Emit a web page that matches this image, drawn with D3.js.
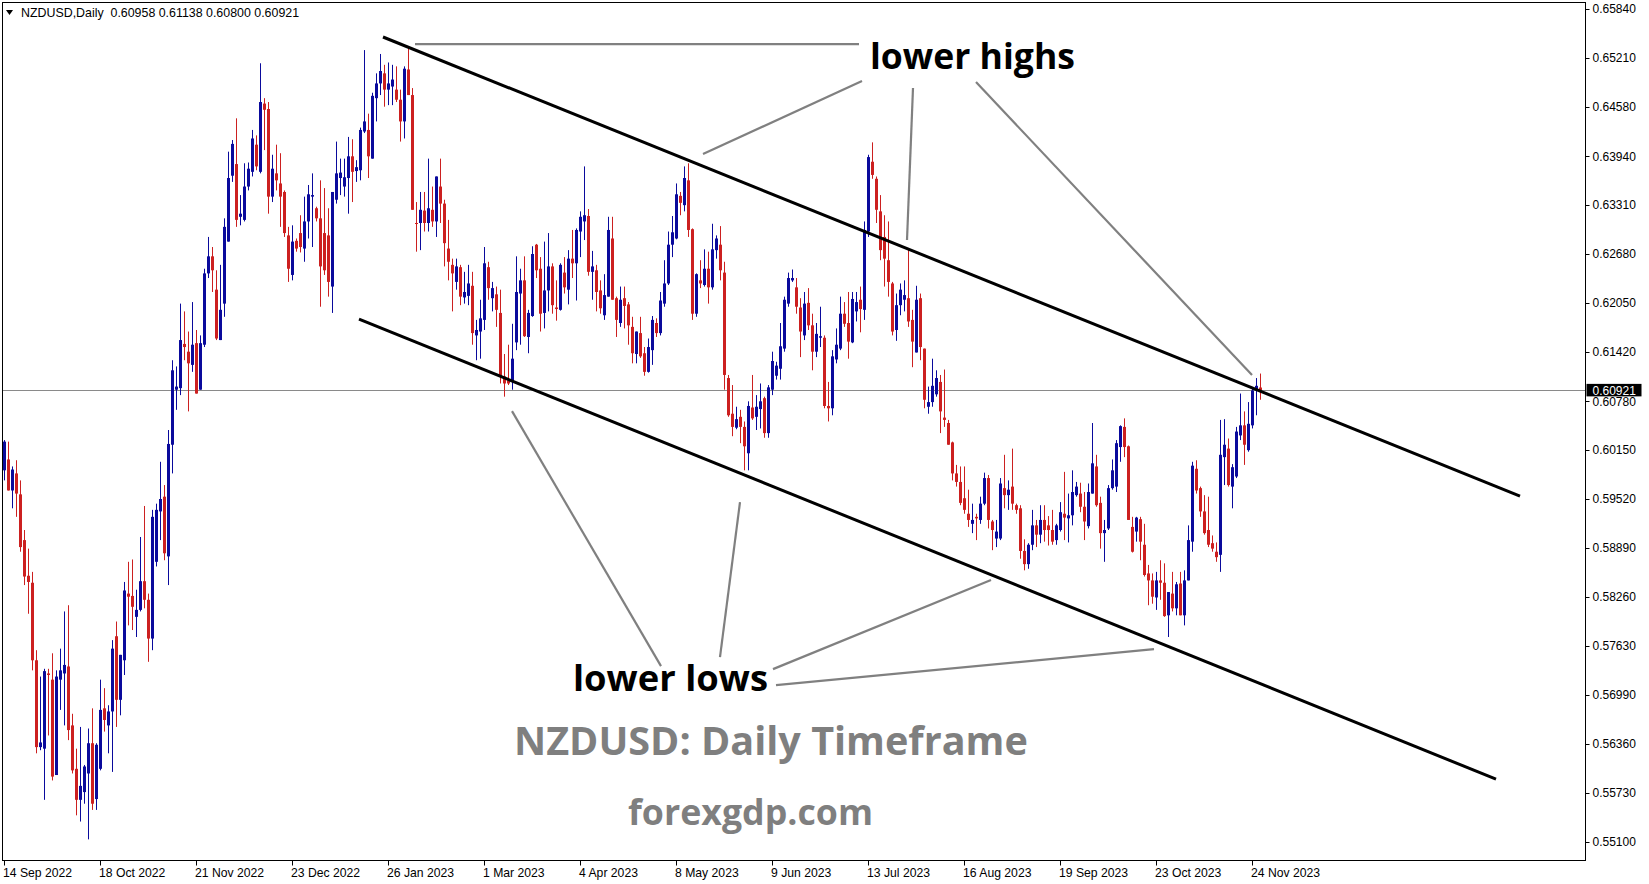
<!DOCTYPE html>
<html><head><meta charset="utf-8">
<script src="https://cdn.jsdelivr.net/npm/d3@7/dist/d3.min.js"></script>
<style>html,body{margin:0;padding:0;background:#fff;overflow:hidden}</style>
</head><body><svg id="c" width="1649" height="884"></svg>
<script>
// ---------------- DATA ----------------
const symbolName = "NZDUSD,Daily";
const openP = [
0.5989,0.6003,0.5963,0.5985,0.5958,0.5899,0.5853,0.5844,0.5744,0.5632,
0.5630,0.5727,0.5719,0.5596,0.5719,0.5727,0.5736,0.5660,0.5604,0.5564,
0.5574,0.5598,0.5637,0.5565,0.5604,0.5682,0.5660,0.5678,0.5775,0.5693,
0.5744,0.5830,0.5827,0.5800,0.5809,0.5846,0.5822,0.5772,0.5871,0.5936,
0.5955,0.5878,0.6022,0.6093,0.6095,0.6152,0.6142,0.6125,0.6153,0.6093,
0.6151,0.6243,0.6265,0.6222,0.6157,0.6204,0.6284,0.6369,0.6384,0.6316,
0.6312,0.6355,0.6374,0.6409,0.6374,0.6462,0.6455,0.6342,0.6372,0.6359,
0.6348,0.6292,0.6241,0.6285,0.6295,0.6275,0.6310,0.6342,0.6327,0.6314,
0.6295,0.6292,0.6226,0.6338,0.6366,0.6355,0.6366,0.6394,0.6375,0.6376,
0.6426,0.6428,0.6391,0.6469,0.6488,0.6501,0.6480,0.6484,0.6480,0.6467,
0.6439,0.6506,0.6473,0.6308,0.6308,0.6324,0.6308,0.6325,0.6310,0.6355,
0.6333,0.6275,0.6254,0.6232,0.6251,0.6212,0.6214,0.6227,0.6163,0.6168,
0.6183,0.6251,0.6211,0.6216,0.6192,0.6110,0.6105,0.6103,0.6154,0.6217,
0.6234,0.6161,0.6188,0.6280,0.6249,0.6192,0.6221,0.6252,0.6199,0.6196,
0.6244,0.6222,0.6262,0.6256,0.6297,0.6310,0.6317,0.6245,0.6247,0.6221,
0.6189,0.6213,0.6288,0.6211,0.6179,0.6211,0.6203,0.6174,0.6139,0.6166,
0.6140,0.6116,0.6144,0.6179,0.6166,0.6204,0.6230,0.6280,0.6288,0.6343,
0.6331,0.6363,0.6300,0.6191,0.6234,0.6228,0.6249,0.6225,0.6273,0.6280,
0.6244,0.6108,0.6062,0.6044,0.6058,0.6045,0.6011,0.6070,0.6058,0.6068,
0.6082,0.6037,0.6093,0.6111,0.6120,0.6146,0.6204,0.6234,0.6225,0.6199,
0.6163,0.6205,0.6176,0.6142,0.6160,0.6160,0.6072,0.6069,0.6132,0.6146,
0.6191,0.6179,0.6154,0.6194,0.6209,0.6196,0.6297,0.6387,0.6365,0.6323,
0.6290,0.6260,0.6230,0.6170,0.6202,0.6209,0.6211,0.6183,0.6141,0.6211,
0.6146,0.6071,0.6077,0.6087,0.6103,0.6057,0.6050,0.6025,0.5985,0.5974,
0.5953,0.5933,0.5920,0.5929,0.5925,0.5946,0.5979,0.5923,0.5901,0.5901,
0.5966,0.5957,0.5968,0.5944,0.5940,0.5885,0.5868,0.5893,0.5918,0.5906,
0.5925,0.5918,0.5912,0.5899,0.5912,0.5933,0.5927,0.5931,0.5957,0.5959,
0.5942,0.5917,0.5959,0.5994,0.5947,0.5908,0.5914,0.5966,0.5968,0.6019,
0.6045,0.6020,0.5916,0.5910,0.5926,0.5893,0.5856,0.5847,0.5825,0.5847,
0.5844,0.5802,0.5830,0.5811,0.5843,0.5802,0.5847,0.5897,0.5991,0.5966,
0.5936,0.5912,0.5895,0.5884,0.5880,0.6006,0.6017,0.5968,0.5981,0.6034,
0.6047,0.6015,0.6047,0.6092,0.60958];
const highP = [
0.6028,0.6026,0.5994,0.6002,0.5976,0.5912,0.5888,0.5858,0.5757,0.5723,
0.5733,0.5733,0.5753,0.5731,0.5759,0.5807,0.5815,0.5675,0.5630,0.5658,
0.5609,0.5656,0.5682,0.5637,0.5719,0.5708,0.5686,0.5770,0.5794,0.5751,
0.5845,0.5871,0.5874,0.5835,0.5903,0.5943,0.5830,0.5938,0.5946,0.6000,
0.5970,0.6041,0.6131,0.6123,0.6204,0.6194,0.6168,0.6206,0.6170,0.6163,
0.6249,0.6290,0.6277,0.6247,0.6254,0.6314,0.6400,0.6415,0.6443,0.6344,
0.6385,0.6386,0.6428,0.6421,0.6514,0.6469,0.6464,0.6396,0.6409,0.6398,
0.6350,0.6303,0.6305,0.6288,0.6318,0.6342,0.6357,0.6372,0.6329,0.6363,
0.6353,0.6327,0.6348,0.6413,0.6391,0.6391,0.6419,0.6416,0.6389,0.6431,
0.6531,0.6449,0.6476,0.6501,0.6526,0.6512,0.6515,0.6512,0.6510,0.6480,
0.6510,0.6535,0.6482,0.6335,0.6348,0.6348,0.6391,0.6355,0.6368,0.6391,
0.6338,0.6312,0.6262,0.6262,0.6254,0.6245,0.6254,0.6245,0.6183,0.6209,
0.6277,0.6258,0.6232,0.6226,0.6222,0.6139,0.6151,0.6178,0.6265,0.6249,
0.6265,0.6196,0.6278,0.6281,0.6264,0.6284,0.6295,0.6256,0.6234,0.6256,
0.6264,0.6273,0.6299,0.6301,0.6323,0.6381,0.6326,0.6272,0.6254,0.6234,
0.6242,0.6316,0.6316,0.6213,0.6226,0.6226,0.6206,0.6187,0.6168,0.6187,
0.6148,0.6159,0.6188,0.6185,0.6219,0.6260,0.6297,0.6317,0.6359,0.6348,
0.6381,0.6385,0.6301,0.6243,0.6260,0.6274,0.6271,0.6307,0.6292,0.6304,
0.6258,0.6112,0.6099,0.6071,0.6067,0.6052,0.6078,0.6112,0.6086,0.6101,
0.6084,0.6099,0.6142,0.6129,0.6179,0.6213,0.6244,0.6248,0.6237,0.6211,
0.6219,0.6224,0.6191,0.6179,0.6200,0.6163,0.6103,0.6144,0.6172,0.6213,
0.6206,0.6219,0.6219,0.6219,0.6226,0.6310,0.6396,0.6412,0.6368,0.6344,
0.6318,0.6310,0.6232,0.6217,0.6230,0.6234,0.6275,0.6196,0.6227,0.6217,
0.6146,0.6097,0.6133,0.6118,0.6112,0.6119,0.6054,0.6026,0.5996,0.5994,
0.5994,0.5964,0.5946,0.5933,0.5955,0.5986,0.5983,0.5925,0.5925,0.5979,
0.6009,0.5976,0.6017,0.5946,0.5944,0.5900,0.5895,0.5938,0.5925,0.5944,
0.5944,0.5930,0.5938,0.5920,0.5948,0.5987,0.5959,0.5989,0.5974,0.5973,
0.5961,0.5972,0.6050,0.6009,0.5955,0.5925,0.5970,0.6003,0.6028,0.6047,
0.6056,0.6021,0.5929,0.5929,0.5929,0.5920,0.5867,0.5856,0.5858,0.5873,
0.5869,0.5832,0.5858,0.5845,0.5858,0.5860,0.5918,0.6000,0.6002,0.5968,
0.5957,0.5955,0.5905,0.5896,0.6054,0.6055,0.6030,0.5997,0.6045,0.6088,
0.6065,0.6077,0.6095,0.6108,0.61138];
const lowP = [
0.5976,0.5963,0.5940,0.5929,0.5884,0.5841,0.5804,0.5731,0.5624,0.5628,
0.5564,0.5647,0.5589,0.5596,0.5680,0.5660,0.5641,0.5598,0.5544,0.5536,
0.5559,0.5513,0.5551,0.5551,0.5602,0.5652,0.5624,0.5600,0.5658,0.5673,
0.5725,0.5789,0.5783,0.5774,0.5807,0.5811,0.5742,0.5757,0.5865,0.5899,
0.5873,0.5841,0.5985,0.6067,0.6086,0.6131,0.6065,0.6116,0.6088,0.6093,
0.6148,0.6237,0.6219,0.6157,0.6157,0.6187,0.6284,0.6361,0.6303,0.6305,
0.6310,0.6350,0.6368,0.6376,0.6372,0.6402,0.6320,0.6335,0.6350,0.6303,
0.6290,0.6232,0.6234,0.6271,0.6270,0.6258,0.6288,0.6277,0.6310,0.6200,
0.6241,0.6213,0.6192,0.6333,0.6344,0.6342,0.6320,0.6335,0.6361,0.6363,
0.6424,0.6366,0.6391,0.6439,0.6473,0.6458,0.6460,0.6460,0.6464,0.6413,
0.6417,0.6473,0.6325,0.6271,0.6273,0.6297,0.6297,0.6303,0.6290,0.6308,
0.6252,0.6234,0.6194,0.6222,0.6202,0.6204,0.6202,0.6151,0.6131,0.6133,
0.6170,0.6209,0.6194,0.6174,0.6101,0.6084,0.6099,0.6093,0.6144,0.6151,
0.6161,0.6140,0.6187,0.6237,0.6168,0.6172,0.6194,0.6191,0.6182,0.6195,
0.6217,0.6203,0.6237,0.6208,0.6264,0.6286,0.6240,0.6209,0.6194,0.6191,
0.6183,0.6213,0.6209,0.6161,0.6174,0.6172,0.6151,0.6127,0.6127,0.6134,
0.6111,0.6115,0.6125,0.6161,0.6163,0.6200,0.6228,0.6264,0.6287,0.6318,
0.6323,0.6290,0.6183,0.6187,0.6224,0.6226,0.6204,0.6222,0.6262,0.6234,
0.6093,0.6058,0.6033,0.6042,0.6024,0.5989,0.5989,0.6054,0.6041,0.6043,
0.6031,0.6031,0.6086,0.6106,0.6106,0.6142,0.6200,0.6232,0.6191,0.6135,
0.6157,0.6170,0.6118,0.6135,0.6148,0.6069,0.6052,0.6060,0.6127,0.6144,
0.6174,0.6133,0.6153,0.6181,0.6167,0.6183,0.6290,0.6365,0.6308,0.6260,
0.6226,0.6213,0.6163,0.6156,0.6189,0.6194,0.6174,0.6122,0.6141,0.6131,
0.6069,0.6062,0.6071,0.6084,0.6037,0.6045,0.6022,0.5976,0.5968,0.5944,
0.5933,0.5916,0.5908,0.5899,0.5920,0.5944,0.5914,0.5886,0.5890,0.5899,
0.5940,0.5938,0.5938,0.5933,0.5875,0.5860,0.5862,0.5886,0.5890,0.5895,
0.5897,0.5892,0.5893,0.5893,0.5910,0.5899,0.5896,0.5918,0.5955,0.5935,
0.5899,0.5914,0.5959,0.5942,0.5888,0.5871,0.5912,0.5964,0.5961,0.6000,
0.6006,0.5925,0.5883,0.5897,0.5873,0.5852,0.5815,0.5817,0.5809,0.5822,
0.5800,0.5774,0.5807,0.5802,0.5802,0.5789,0.5847,0.5884,0.5959,0.5929,
0.5906,0.5890,0.5884,0.5871,0.5858,0.5970,0.5968,0.5940,0.5979,0.6028,
0.5996,0.6013,0.6043,0.6060,0.60800];
const closeP = [
0.6026,0.5963,0.5990,0.5959,0.5890,0.5852,0.5845,0.5744,0.5632,0.5638,
0.5730,0.5725,0.5594,0.5723,0.5731,0.5738,0.5654,0.5602,0.5564,0.5582,
0.5607,0.5637,0.5559,0.5635,0.5680,0.5667,0.5678,0.5759,0.5693,0.5751,
0.5834,0.5826,0.5813,0.5809,0.5846,0.5822,0.5772,0.5929,0.5938,0.5952,
0.5882,0.6023,0.6118,0.6097,0.6157,0.6148,0.6127,0.6151,0.6088,0.6153,
0.6243,0.6265,0.6247,0.6159,0.6196,0.6303,0.6366,0.6410,0.6312,0.6320,
0.6355,0.6378,0.6417,0.6381,0.6464,0.6454,0.6342,0.6378,0.6363,0.6342,
0.6295,0.6249,0.6284,0.6275,0.6277,0.6310,0.6345,0.6344,0.6314,0.6252,
0.6247,0.6232,0.6348,0.6372,0.6373,0.6367,0.6394,0.6374,0.6380,0.6428,
0.6439,0.6394,0.6472,0.6488,0.6504,0.6480,0.6488,0.6493,0.6467,0.6439,
0.6507,0.6473,0.6325,0.6307,0.6325,0.6308,0.6327,0.6310,0.6368,0.6333,
0.6282,0.6258,0.6243,0.6252,0.6213,0.6219,0.6230,0.6166,0.6170,0.6185,
0.6256,0.6224,0.6224,0.6196,0.6110,0.6101,0.6101,0.6133,0.6219,0.6234,
0.6162,0.6192,0.6268,0.6247,0.6191,0.6221,0.6252,0.6202,0.6197,0.6254,
0.6225,0.6262,0.6256,0.6299,0.6316,0.6318,0.6245,0.6252,0.6219,0.6198,
0.6215,0.6299,0.6209,0.6183,0.6209,0.6201,0.6176,0.6140,0.6168,0.6136,
0.6116,0.6148,0.6183,0.6166,0.6208,0.6230,0.6280,0.6296,0.6345,0.6334,
0.6366,0.6299,0.6191,0.6242,0.6230,0.6249,0.6225,0.6274,0.6288,0.6247,
0.6112,0.6060,0.6045,0.6055,0.6045,0.6020,0.6072,0.6056,0.6071,0.6078,
0.6037,0.6096,0.6130,0.6124,0.6149,0.6209,0.6237,0.6237,0.6200,0.6168,
0.6204,0.6176,0.6142,0.6165,0.6162,0.6072,0.6069,0.6136,0.6151,0.6191,
0.6178,0.6155,0.6210,0.6206,0.6197,0.6299,0.6393,0.6370,0.6325,0.6273,
0.6262,0.6232,0.6168,0.6202,0.6222,0.6215,0.6181,0.6155,0.6209,0.6148,
0.6080,0.6077,0.6098,0.6108,0.6065,0.6054,0.6022,0.5985,0.5974,0.5947,
0.5938,0.5925,0.5925,0.5927,0.5946,0.5979,0.5925,0.5912,0.5910,0.5972,
0.5957,0.5964,0.5946,0.5938,0.5885,0.5868,0.5893,0.5918,0.5906,0.5925,
0.5912,0.5912,0.5897,0.5918,0.5935,0.5928,0.5931,0.5961,0.5968,0.5942,
0.5923,0.5961,0.5998,0.5944,0.5908,0.5912,0.5966,0.5989,0.6024,0.6046,
0.6019,0.5925,0.5884,0.5928,0.5897,0.5854,0.5847,0.5826,0.5847,0.5844,
0.5801,0.5832,0.5811,0.5842,0.5802,0.5847,0.5899,0.5995,0.5963,0.5936,
0.5908,0.5893,0.5888,0.5877,0.6009,0.6022,0.5970,0.5993,0.6039,0.6047,
0.6022,0.6049,0.6092,0.6098,0.60921];
const priceTicks = [0.65840,0.65210,0.64580,0.63940,0.63310,0.62680,0.62050,0.61420,0.60780,
  0.60150,0.59520,0.58890,0.58260,0.57630,0.56990,0.56360,0.55730,0.55100];
const dateLabels = ["14 Sep 2022","18 Oct 2022","21 Nov 2022","23 Dec 2022","26 Jan 2023","1 Mar 2023",
  "4 Apr 2023","8 May 2023","9 Jun 2023","13 Jul 2023","16 Aug 2023","19 Sep 2023","23 Oct 2023","24 Nov 2023"];
const dateTickBars = [0,24,48,72,96,120,144,168,192,216,240,264,288,312];
// channel lines and pointer lines, in (bar index, price)
const channelLines = [
  [[94.75,0.65479],[379,0.59558]],
  [[88.75,0.61841],[373,0.55907]]
];
const pointerLines = [
  [[102.75,0.65388],[213.75,0.65388]],
  [[174.75,0.63969],[214.5,0.64911]],
  [[227.25,0.64821],[225.75,0.62860]],
  [[243,0.64898],[312,0.61119]],
  [[127,0.60654],[164.25,0.57365]],
  [[184,0.59480],[179,0.57481]],
  [[192.25,0.57326],[246.75,0.58474]],
  [[193,0.57119],[287.5,0.57584]]
];
const notes = [
  {text:"lower highs", bar:216.5, price:0.65066},
  {text:"lower lows", bar:142.25, price:0.57042},
  {text:"NZDUSD: Daily Timeframe", bar:127.5, price:0.56216},
  {text:"forexgdp.com", bar:156, price:0.5532}
];
// ---------------- STYLE / LAYOUT ----------------
const noteStyle = [
  {fill:"#000", w:205}, {fill:"#000", w:195}, {fill:"#7f7f7f", w:514}, {fill:"#7f7f7f", w:245}
];
const BULL = "#0a0a9c", BEAR = "#cc2020";
const plot = {l:2.5, t:2.5, r:1585.5, b:860.5};

const svg = d3.select("#c");
const x = d3.scaleLinear().domain([-0.25, 395.25]).range([3, 1585]);
const y = d3.scaleLinear().domain([0.55100, 0.65840]).range([841.7, 9]);

const n = closeP.length;
const idx = d3.range(n);

// last price line
const last = closeP[n-1];
svg.append("line").attr("x1",3).attr("x2",plot.r).attr("y1",Math.round(y(last))+0.5).attr("y2",Math.round(y(last))+0.5)
  .attr("stroke","#8a8a8a").attr("stroke-width",1);

// candles
const cg = svg.append("g");
cg.selectAll("line.w").data(idx).join("line").attr("class","w")
  .attr("x1",i=>Math.round(x(i))+0.5).attr("x2",i=>Math.round(x(i))+0.5)
  .attr("y1",i=>y(highP[i])).attr("y2",i=>y(lowP[i]))
  .attr("stroke",i=>closeP[i]>=openP[i]?BULL:BEAR).attr("stroke-width",1);
cg.selectAll("rect.b").data(idx).join("rect").attr("class","b")
  .attr("x",i=>Math.round(x(i))-1).attr("width",3)
  .attr("y",i=>y(Math.max(openP[i],closeP[i])))
  .attr("height",i=>Math.max(1, Math.abs(y(openP[i])-y(closeP[i]))))
  .attr("fill",i=>closeP[i]>=openP[i]?BULL:BEAR);

// channel lines
const lineGen = d3.line().x(d=>x(d[0])).y(d=>y(d[1]));
svg.append("g").selectAll("path").data(channelLines).join("path")
  .attr("d",lineGen).attr("stroke","#000").attr("stroke-width",3).attr("fill","none");
svg.append("g").selectAll("path").data(pointerLines).join("path")
  .attr("d",lineGen).attr("stroke","#808080").attr("stroke-width",2.2).attr("fill","none");

// notes
const tg = svg.append("g");
notes.forEach((d,k)=>{
  const t = tg.append("text").attr("x",x(d.bar)).attr("y",y(d.price))
    .attr("font-family","'Open Sans', 'Noto Sans', sans-serif").attr("font-weight",700)
    .attr("font-size",36).attr("fill",noteStyle[k].fill).text(d.text);
  const w = t.node().getComputedTextLength();
  t.attr("font-size", 36*noteStyle[k].w/w);
});

// frame
svg.append("rect").attr("x",plot.l).attr("y",plot.t).attr("width",plot.r-plot.l).attr("height",plot.b-plot.t)
  .attr("fill","none").attr("stroke","#000").attr("stroke-width",1);

// right axis
const ya = svg.append("g").attr("transform",`translate(${plot.r},0)`);
ya.selectAll("line").data(priceTicks).join("line")
  .attr("x1",0).attr("x2",4).attr("y1",d=>Math.round(y(d))+0.5).attr("y2",d=>Math.round(y(d))+0.5)
  .attr("stroke","#000");
ya.selectAll("text").data(priceTicks).join("text")
  .attr("x",7).attr("y",d=>y(d)+4.2).attr("font-family","'Liberation Sans', Arial, sans-serif")
  .attr("font-size",12).attr("fill","#000").text(d=>d.toFixed(5));

// last price box
const ly = y(last);
svg.append("rect").attr("x",plot.r+1).attr("y",ly-6.5).attr("width",55).attr("height",12.5).attr("fill","#000");
svg.append("text").attr("x",plot.r+7).attr("y",ly+4.2).attr("font-family","'Liberation Sans', Arial, sans-serif")
  .attr("font-size",12).attr("fill","#fff").text(last.toFixed(5));

// bottom axis
const xa = svg.append("g").attr("transform",`translate(0,${plot.b})`);
xa.selectAll("line").data(dateTickBars).join("line")
  .attr("x1",d=>Math.round(x(d))+0.5).attr("x2",d=>Math.round(x(d))+0.5).attr("y1",0).attr("y2",5).attr("stroke","#000");
xa.selectAll("text").data(dateTickBars).join("text")
  .attr("x",d=>x(d)-1).attr("y",16).attr("font-family","'Liberation Sans', Arial, sans-serif")
  .attr("font-size",12.2).attr("fill","#000").text((d,k)=>dateLabels[k]);

// header
svg.append("path").attr("d","M6,10 L13,10 L9.5,15 Z").attr("fill","#000");
svg.append("text").attr("x",21).attr("y",17).attr("font-family","'Liberation Sans', Arial, sans-serif")
  .attr("font-size",12.4).attr("fill","#000").style("white-space","pre")
  .text(`${symbolName}  ${openP[n-1].toFixed(5)} ${highP[n-1].toFixed(5)} ${lowP[n-1].toFixed(5)} ${closeP[n-1].toFixed(5)}`);
</script></body></html>
